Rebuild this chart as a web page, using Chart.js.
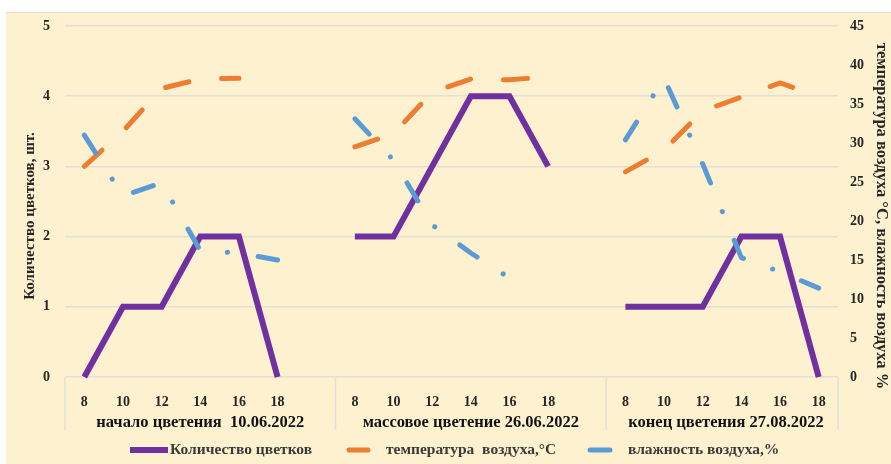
<!DOCTYPE html>
<html lang="ru">
<head>
<meta charset="utf-8">
<title>Количество цветков, температура и влажность воздуха</title>
<script src="https://cdn.jsdelivr.net/npm/chart.js@4"></script>
<style>
    html, body { margin: 0; padding: 0; background: #ffffff; }
    #wrap { position: absolute; left: 6px; top: 12px; width: 885px; height: 452px; background: #fdf1d0; border-top: 1px solid #e2ddd2; box-sizing: border-box; }
    canvas { position: absolute; left: 0; top: -1px; }
</style>
</head>
<body>
<div id="wrap"><canvas id="flowerChart" width="885" height="452"></canvas></div>
<script>
"use strict";

/* Часы наблюдения в каждом периоде */
const hours = ['8', '10', '12', '14', '16', '18'];

/* Периоды цветения (подписи групп) */
const periods = ['начало цветения  10.06.2022', 'массовое цветение 26.06.2022', 'конец цветения 27.08.2022'];

/* Ось категорий: три группы, пустая категория между ними */
const categories = [...hours, '', ...hours, '', ...hours];

/* Количество цветков, шт. */
const flowers = [0, 1, 1, 2, 2, 0, null, 2, 2, 3, 4, 4, 3, null, 1, 1, 1, 2, 2, 0];

/* Температура воздуха, °С */
const temperature = [27, 31.5, 37, 38.2, 38.3, null, null, 29.5, 31.2, 36.5, 38.2, 38.1, 38.5, null, 26.3, 29.1, 34.1, 35.9, 37.7, 36];

/* Влажность воздуха, % */
const humidity = [31, 23.2, 24.9, 16.2, 15.9, 15, null, 33.1, 27.8, 19.5, 15.9, 12.7, null, null, 30.4, 38.3, 27.3, 15.3, 13.5, 11.4];

const leftTicks = [0, 1, 2, 3, 4, 5];
const rightTicks = [0, 5, 10, 15, 20, 25, 30, 35, 40, 45];

const seriesNames = ['Количество цветков', 'температура  воздуха,°С', 'влажность воздуха,%'];
const leftTitle = 'Количество цветков, шт.';
const rightTitle = 'температура воздуха °С, влажность воздуха %';

const purple = '#7030a0';
const orange = '#ed7d31';
const blue = '#5b9bd5';
const gridColor = 'rgb(226, 224, 214)';
const textColor = '#262626';
const serif = '"Liberation Serif", "Times New Roman", serif';

/**
 * Рисует подписи групп, разделители, подписи осей и легенду.
 */
const overlay = {
    id: 'overlay',
    afterDraw(chart) {
        const { ctx, chartArea, scales } = chart;
        const x = scales.x;

        ctx.save();

        // вертикальные разделители групп под осью
        const bounds = [chartArea.left];
        categories.forEach((c, i) => {
            if (c === '') {
                bounds.push((x.getPixelForTick(i) + x.getPixelForTick(i + 1)) / 2);
            }
        });
        bounds.push(chartArea.right);

        ctx.strokeStyle = gridColor;
        ctx.lineWidth = 1.5;
        bounds.forEach(b => {
            ctx.beginPath();
            ctx.moveTo(b, chartArea.bottom);
            ctx.lineTo(b, 418);
            ctx.stroke();
        });

        // подписи групп
        ctx.fillStyle = '#111111';
        ctx.font = 'bold 16.5px ' + serif;
        ctx.textAlign = 'center';
        ctx.textBaseline = 'middle';
        periods.forEach((p, i) => {
            ctx.fillText(p, (bounds[i] + bounds[i + 1]) / 2 + (i === 2 ? 4 : 0), 411);
        });

        // подписи осей
        ctx.fillStyle = textColor;
        ctx.save();
        ctx.translate(24, 204);
        ctx.rotate(-Math.PI / 2);
        ctx.font = 'bold 15px ' + serif;
        ctx.fillText(leftTitle, 0, 0);
        ctx.restore();

        ctx.save();
        ctx.translate(875, 204);
        ctx.rotate(Math.PI / 2);
        ctx.font = 'bold 16.5px ' + serif;
        ctx.fillText(rightTitle, 0, 0);
        ctx.restore();

        // легенда
        const legendY = 438;
        ctx.lineCap = 'butt';
        ctx.strokeStyle = purple;
        ctx.lineWidth = 6;
        ctx.beginPath();
        ctx.moveTo(124, legendY);
        ctx.lineTo(162, legendY);
        ctx.stroke();

        ctx.lineCap = 'round';
        ctx.lineWidth = 5;
        ctx.strokeStyle = orange;
        ctx.beginPath();
        ctx.moveTo(343, legendY);
        ctx.lineTo(362, legendY);
        ctx.stroke();

        ctx.strokeStyle = blue;
        ctx.beginPath();
        ctx.moveTo(584, legendY);
        ctx.lineTo(604, legendY);
        ctx.stroke();

        ctx.fillStyle = '#3a3a3a';
        ctx.font = 'bold 15.5px ' + serif;
        ctx.textAlign = 'left';
        ctx.fillText(seriesNames[0], 164, legendY);
        ctx.fillText(seriesNames[1], 380, legendY);
        ctx.fillText(seriesNames[2], 622, legendY);

        ctx.restore();
    }
};

const tickFont = { family: serif, size: 14, weight: 'bold' };

/* Фиксирует ширину вертикальной оси и убирает её внутренние отступы */
function fitVertical(width) {
    return function (scale) {
        scale.width = width;
        scale.paddingTop = 0;
        scale.paddingBottom = 0;
    };
}

new Chart(document.getElementById('flowerChart'), {
    type: 'line',
    data: {
        labels: categories,
        datasets: [
            {
                label: seriesNames[0],
                data: flowers,
                yAxisID: 'y',
                borderColor: purple,
                borderWidth: 6,
                borderJoinStyle: 'miter',
                borderCapStyle: 'butt',
                pointRadius: 0,
                tension: 0,
                clip: false,
                order: 3
            },
            {
                label: seriesNames[1],
                data: temperature,
                yAxisID: 'y1',
                borderColor: orange,
                borderWidth: 5,
                borderDash: [24, 33],
                borderCapStyle: 'round',
                borderJoinStyle: 'round',
                pointRadius: 0,
                tension: 0,
                clip: false,
                order: 2
            },
            {
                label: seriesNames[2],
                data: humidity,
                yAxisID: 'y1',
                borderColor: blue,
                borderWidth: 5,
                borderDash: [21, 31, 0.1, 31],
                borderCapStyle: 'round',
                borderJoinStyle: 'round',
                pointRadius: 0,
                tension: 0,
                clip: false,
                order: 1
            }
        ]
    },
    options: {
        responsive: false,
        animation: false,
        layout: { padding: { top: 14, left: 0, right: 0, bottom: 0 } },
        plugins: {
            legend: { display: false },
            tooltip: { enabled: false }
        },
        scales: {
            x: {
                type: 'category',
                offset: true,
                grid: { display: false },
                border: { display: false },
                ticks: {
                    color: textColor,
                    font: tickFont,
                    padding: 9,
                    autoSkip: false,
                    maxRotation: 0
                },
                afterFit(scale) {
                    scale.height = 87;
                    scale.paddingLeft = 0;
                    scale.paddingRight = 0;
                }
            },
            y: {
                position: 'left',
                min: leftTicks[0],
                max: leftTicks[leftTicks.length - 1],
                afterBuildTicks(scale) { scale.ticks = leftTicks.map(v => ({ value: v })); },
                grid: { color: gridColor, lineWidth: 1.5, drawTicks: false },
                border: { display: false },
                ticks: { color: textColor, font: tickFont, padding: 15 },
                afterFit: fitVertical(59)
            },
            y1: {
                position: 'right',
                min: rightTicks[0],
                max: rightTicks[rightTicks.length - 1],
                afterBuildTicks(scale) { scale.ticks = rightTicks.map(v => ({ value: v })); },
                grid: { display: false, drawTicks: false },
                border: { display: false },
                ticks: { color: textColor, font: tickFont, padding: 12 },
                afterFit: fitVertical(53)
            }
        }
    },
    plugins: [overlay]
});
</script>
</body>
</html>
